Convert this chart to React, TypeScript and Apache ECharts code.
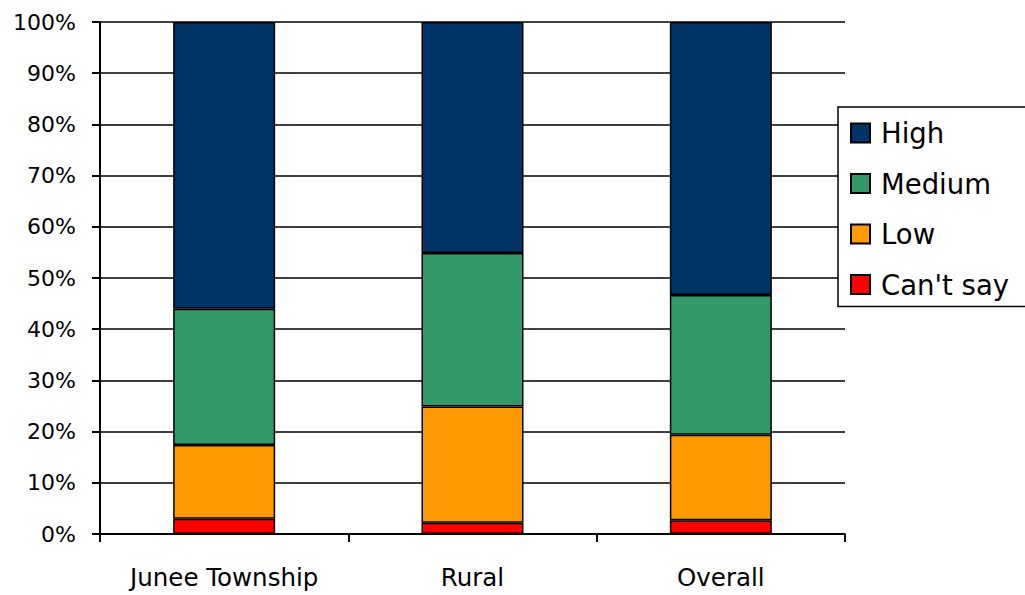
import React, { useEffect, useRef } from "react";
import * as echarts from "echarts";

const categories = ["Junee Township", "Rural", "Overall"];
const cantSay = [3.0, 2.2, 2.7];
const low = [14.4, 22.7, 16.7];
const medium = [26.6, 30.0, 27.3];
const high = [56.0, 45.1, 53.3];
const yTicks = { min: 0, max: 100, interval: 10 };

const FONT = "DejaVu Sans";

export default function App() {
  const ref = useRef<HTMLDivElement>(null);

  useEffect(() => {
    if (!ref.current) return;
    const chart = echarts.init(ref.current, undefined, { renderer: "svg" });
    const mk = (name: string, data: number[], color: string) => ({
      name,
      type: "bar",
      stack: "total",
      barWidth: 102,
      data,
      itemStyle: { color, borderColor: "#000", borderWidth: 1.5 },
    });
    chart.setOption({
      animation: false,
      textStyle: { fontFamily: FONT },
      grid: { left: 100, right: 180, top: 22, bottom: 61 },
      legend: {
        orient: "vertical",
        left: 838,
        top: 107,
        data: ["High", "Medium", "Low", "Can't say"],
        icon: "rect",
        itemWidth: 19,
        itemHeight: 19,
        itemGap: 22.5,
        padding: [12, 40, 8, 12],
        backgroundColor: "#fff",
        borderColor: "#000",
        borderWidth: 1.5,
        textStyle: {
          fontSize: 27.5,
          lineHeight: 27,
          color: "#000",
          fontFamily: FONT,
          padding: [0, 0, 0, 6],
        },
      },
      xAxis: {
        type: "category",
        data: categories,
        axisLine: { lineStyle: { color: "#000", width: 2 } },
        axisTick: { show: true, interval: 0, length: 8, lineStyle: { color: "#000", width: 2 } },
        axisLabel: { color: "#000", fontSize: 24.5, margin: 31, interval: 0, hideOverlap: false, fontFamily: FONT },
      },
      yAxis: {
        type: "value",
        min: yTicks.min,
        max: yTicks.max,
        interval: yTicks.interval,
        axisLine: { show: true, lineStyle: { color: "#000", width: 2 } },
        axisTick: { show: true, length: 8, lineStyle: { color: "#000", width: 2 } },
        axisLabel: { color: "#000", fontSize: 22, margin: 24, formatter: "{value}%", fontFamily: FONT },
        splitLine: { show: true, lineStyle: { color: "#000", width: 1.5 } },
      },
      series: [
        mk("Can't say", cantSay, "#FF0000"),
        mk("Low", low, "#FF9900"),
        mk("Medium", medium, "#339966"),
        mk("High", high, "#003366"),
      ],
    });
    return () => chart.dispose();
  }, []);

  return (
    <div
      ref={ref}
      style={{ position: "fixed", left: 0, top: 0, width: 1025, height: 595, background: "#fff" }}
    />
  );
}
